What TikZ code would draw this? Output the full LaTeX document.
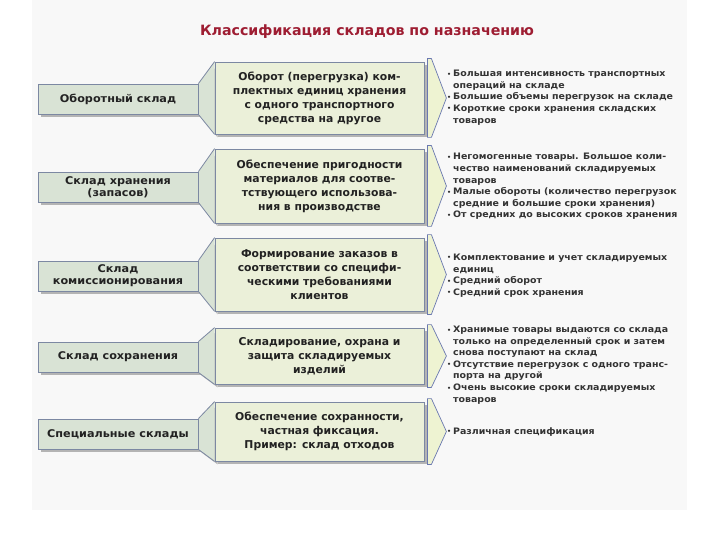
\documentclass[tikz,border=0pt]{standalone}
\usepackage{fontspec}
\setmainfont{DejaVu Sans}
\newfontfamily\widefont[FakeStretch=1.06]{DejaVu Sans}
\usetikzlibrary{calc}
\definecolor{panel}{HTML}{F8F8F8}
\definecolor{lfill}{HTML}{D9E3D5}
\definecolor{mfill}{HTML}{EBF0D9}
\definecolor{cfill}{HTML}{EEF3D2}
\definecolor{bord}{HTML}{7C88A2}
\definecolor{cbord}{HTML}{6A78B0}
\definecolor{shad}{HTML}{B4B4B4}
\definecolor{txt}{HTML}{222222}
\definecolor{rtxt}{HTML}{333333}
\definecolor{titlered}{HTML}{9E1D32}
\pgfdeclarelayer{bg}
\pgfdeclarelayer{shadow}
\pgfdeclarelayer{funnel}
\pgfsetlayers{bg,shadow,funnel,main}
\newcommand\bul{\makebox[6pt][l]{\raisebox{0.5pt}{\fontsize{6}{6}\selectfont•}}}
\newcommand\ind{\hspace*{6pt}}
\begin{document}
\begin{tikzpicture}[x=1pt,y=-1pt,
  lbox/.style={draw=bord, line width=0.8pt, fill=lfill, minimum width=160pt, minimum height=30pt, inner sep=1pt, align=center, text=txt, font=\widefont\bfseries\fontsize{10.6}{12}\selectfont},
  mbox/.style={draw=bord, line width=0.8pt, fill=mfill, minimum width=209pt, inner sep=1pt, align=center, text=txt, font=\bfseries\fontsize{10.8}{14}\selectfont},
  rtext/.style={anchor=west, inner sep=0pt, align=left, text=rtxt, font=\widefont\bfseries\fontsize{8.9}{11.6}\selectfont},
  funnelfill/.style={fill=lfill},
  funneledge/.style={draw=bord, line width=0.8pt},
  chev/.style={fill=cfill, draw=cbord, line width=0.7pt, line join=miter},
  shadowfill/.style={fill=shad}
]
\useasboundingbox (0,0) rectangle (720,540);
\begin{pgfonlayer}{bg}
\fill[white] (0,0) rectangle (720,540);
\fill[panel] (32,0) rectangle (687,510);
\end{pgfonlayer}

\node[font=\bfseries\fontsize{14.2}{16}\selectfont, text=titlered] (title) at (367,32) {Классификация складов по назначению};

% Row 1
\node[lbox] (l1) at (118,99) {Оборотный склад};
\node[mbox, minimum height=72pt] (m1) at (319.5,98) {Оборот (перегрузка) ком-\\плектных единиц хранения\\с одного транспортного\\средства на другое};
% Row 2
\node[lbox] (l2) at (118,187) {Склад хранения\\(запасов)};
\node[mbox, minimum height=74pt] (m2) at (319.5,186) {Обеспечение пригодности\\материалов для соотве-\\тствующего использова-\\ния в производстве};
% Row 3
\node[lbox] (l3) at (118,276) {Склад\\комиссионирования};
\node[mbox, minimum height=73pt] (m3) at (319.5,274.5) {Формирование заказов в\\соответствии со специфи-\\ческими требованиями\\клиентов};
% Row 4
\node[lbox] (l4) at (118,357) {Склад сохранения};
\node[mbox, minimum height=56pt] (m4) at (319.5,356) {Складирование, охрана и\\защита складируемых\\изделий};
% Row 5
\node[lbox] (l5) at (118,434) {Специальные склады};
\node[mbox, minimum height=59pt] (m5) at (319.5,431.5) {Обеспечение сохранности,\\частная фиксация.\\Пример: склад отходов};

\foreach \i in {1,...,5}{
  \begin{pgfonlayer}{shadow}
    \fill[shadowfill] ($(l\i.north west)+(3,3)$) rectangle ($(l\i.south east)+(3,3)$);
    \fill[shadowfill] ($(l\i.north east)+(3,3)$) -- ($(m\i.north west)+(3,3)$) -- ($(m\i.south west)+(3,3)$) -- ($(l\i.south east)+(3,3)$) -- cycle;
    \fill[shadowfill] ($(m\i.north west)+(3,3)$) rectangle ($(m\i.south east)+(3,3)$);
  \end{pgfonlayer}
  \begin{pgfonlayer}{funnel}
    \fill[funnelfill] (l\i.north east) -- (m\i.north west) -- (m\i.south west) -- (l\i.south east) -- cycle;
    \draw[funneledge] (l\i.north east) -- (m\i.north west);
    \draw[funneledge] (l\i.south east) -- (m\i.south west);
  \end{pgfonlayer}
  \draw[chev] ($(m\i.north east)+(3,-3)$) -- ($(m\i.north east)+(7,-3)$) -- ($(m\i.east)+(22,0)$) -- ($(m\i.south east)+(7,3)$) -- ($(m\i.south east)+(3,3)$) -- cycle;
}

\begin{scope}
\clip (440,0) rectangle (681,540);
\node[rtext] (r1) at (447,97.5) {\bul Большая интенсивность транспортных\\\ind операций на складе\\\bul Большие объемы перегрузок на складе\\\bul Короткие сроки хранения складских\\\ind товаров};
\node[rtext] (r2) at (447,186.5) {\bul Негомогенные товары. Большое коли-\\\ind чество наименований складируемых\\\ind товаров\\\bul Малые обороты (количество перегрузок\\\ind средние и большие сроки хранения)\\\bul От средних до высоких сроков хранения};
\node[rtext] (r3) at (447,275.5) {\bul Комплектование и учет складируемых\\\ind единиц\\\bul Средний оборот\\\bul Средний срок хранения};
\node[rtext] (r4) at (447,365) {\bul Хранимые товары выдаются со склада\\\ind только на определенный срок и затем\\\ind снова поступают на склад\\\bul Отсутствие перегрузок с одного транс-\\\ind порта на другой\\\bul Очень высокие сроки складируемых\\\ind товаров};
\node[rtext] (r5) at (447,432) {\bul Различная спецификация};
\end{scope}
\end{tikzpicture}
\end{document}
